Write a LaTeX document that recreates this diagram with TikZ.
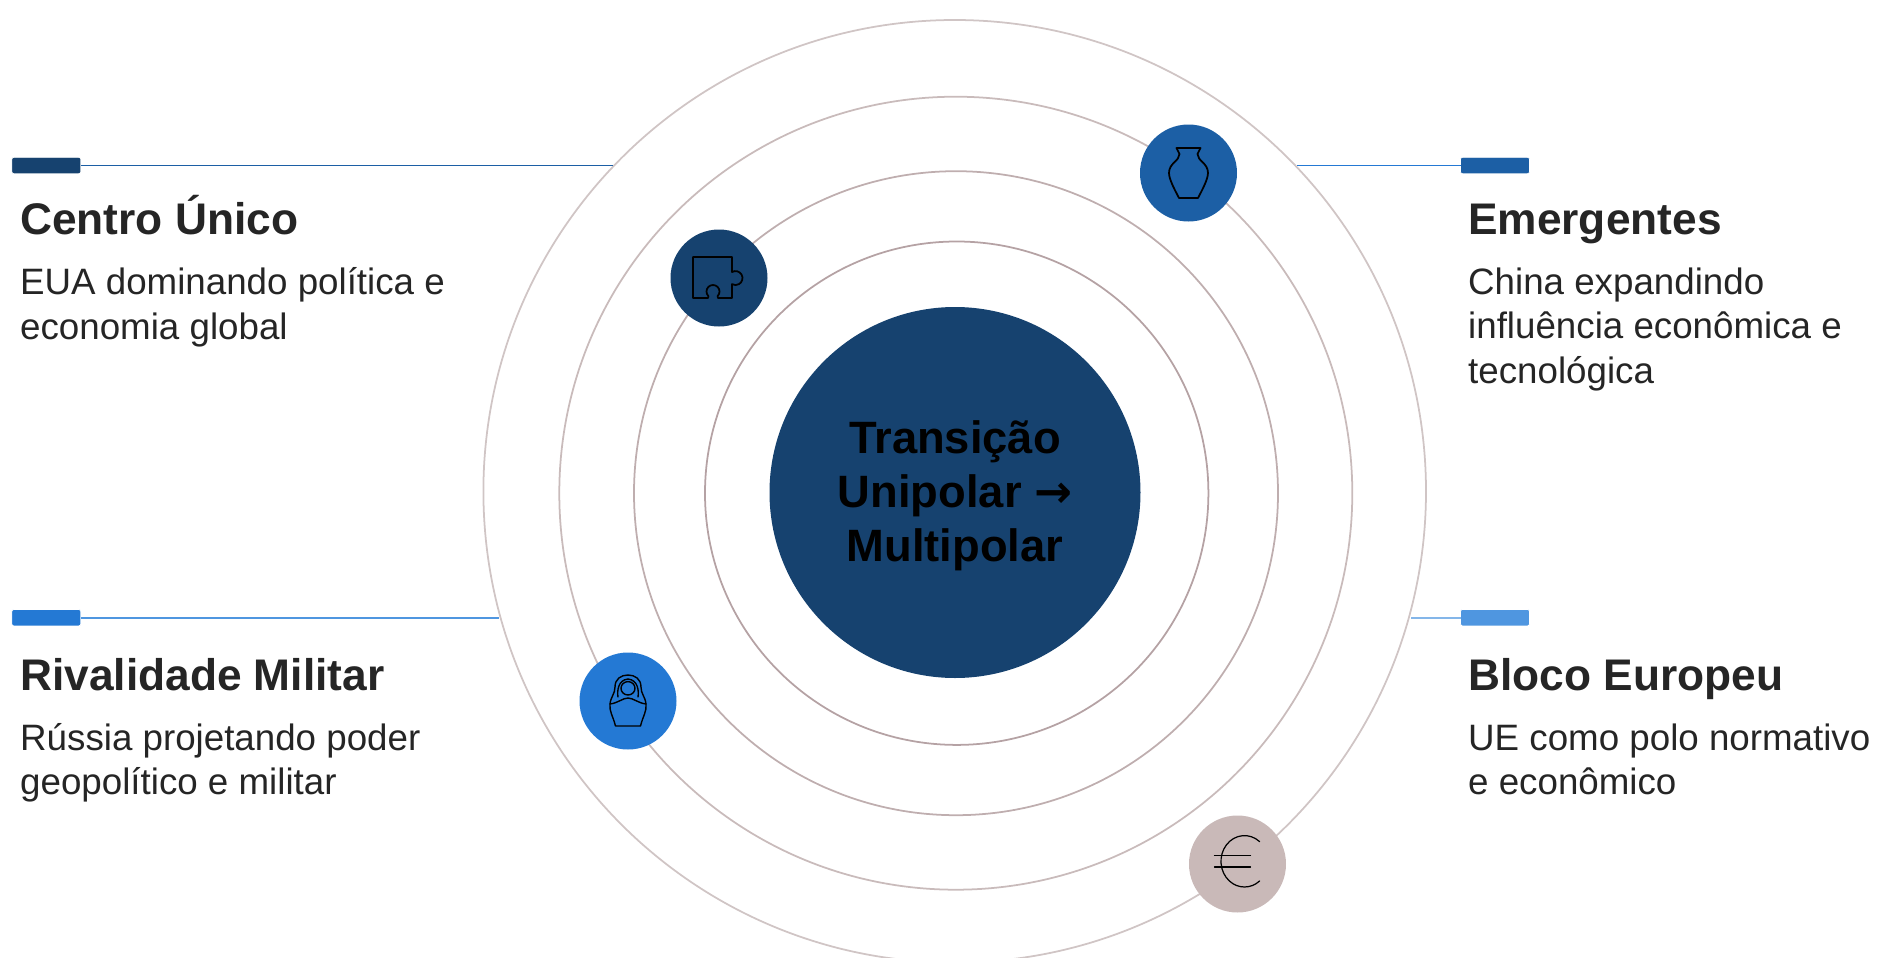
\documentclass[tikz,border=0pt]{standalone}
\usepackage{fontspec}
\usepackage{xcolor}
\setmainfont{Liberation Sans}
\newfontfamily\arrowfont{DejaVu Sans}
\definecolor{navy}{HTML}{16426F}
\definecolor{midblue}{HTML}{1C5FA5}
\definecolor{brightblue}{HTML}{2479D4}
\definecolor{lightblue}{HTML}{4F96E0}
\definecolor{taupe}{HTML}{C9B9B8}
\definecolor{ringa}{HTML}{B5A2A4}
\definecolor{ringb}{HTML}{BFAEAF}
\definecolor{ringc}{HTML}{C9BBBB}
\definecolor{ringd}{HTML}{D0C5C5}
\definecolor{ink}{HTML}{252525}
\usetikzlibrary{positioning}
\begin{document}
\begin{tikzpicture}[ring/.style = {draw, circle, inner sep=0pt, outer sep=0pt, line width=0.5pt},
           sat/.style = {circle, inner sep=0pt, outer sep=0pt, minimum size=0.97cm},
           bar/.style = {draw=white, rounded corners=0.6pt, line width=0.2pt, inner sep=0pt, outer sep=0pt, minimum width=0.69cm, minimum height=0.165cm},
           title/.style = {anchor=base west, inner sep=0pt, text=ink, font=\fontsize{12.6}{15}\selectfont\bfseries},
           desc/.style = {anchor=base west, inner sep=0pt, text=ink, align=left, font=\fontsize{10.45}{12.66}\selectfont},
           icon/.style = {line width=0.5pt, line join=round, line cap=round}]
           \clip (0,0) rectangle (18.78,9.57);

           \node[ring, draw=ringd, minimum size=9.426cm] (ring4) at (9.547,4.657) {};
           \node[ring, draw=ringc, minimum size=7.93cm] (ring3) at (9.558,4.638) {};
           \node[ring, draw=ringb, minimum size=6.44cm] (ring2) at (9.56,4.638) {};
           \node[ring, draw=ringa, minimum size=5.034cm] (ring1) at (9.567,4.638) {};

           \node[circle, fill=navy, inner sep=0pt, minimum size=3.71cm] (center) at (9.55,4.645) {};
           \node[align=center, inner sep=0pt, font=\fontsize{12.9}{15.36}\selectfont\bfseries] (centerlabel) at (9.55,4.61) {Transição\\Unipolar {\arrowfont →}\\Multipolar};

           \node[sat, fill=navy] (puzzle) at (7.19,6.79) {};
           \node[sat, fill=midblue] (vase) at (11.885,7.84) {};
           \node[sat, fill=brightblue] (doll) at (6.28,2.56) {};
           \node[sat, fill=taupe] (euro) at (12.375,0.93) {};

           \draw[icon, shift={(puzzle)}] (-.26,.21) -- (.13,.21) -- (.13,.06) arc[start angle=120, end angle=-120, radius=.07] -- (.13,-.20) -- (-.01,-.20) -- (-.014,-.181) arc[start angle=-45, end angle=225, radius=.065] -- (-.11,-.20) -- (-.26,-.20) -- cycle;
           \draw[icon, shift={(vase)}] (-.12,.25) -- (.12,.25) -- (.09,.19) .. controls (.09,.12) and (.195,.1) .. (.195,.0) .. controls (.195,-.07) and (.12,-.2) .. (.095,-.25) -- (-.095,-.25) .. controls (-.12,-.2) and (-.195,-.07) .. (-.195,.0) .. controls (-.195,.1) and (-.09,.12) .. (-.09,.19) -- cycle;
           \draw[icon, line width=0.4pt, shift={(doll)}] (-.125,-.25) -- (.125,-.25) .. controls (.15,-.15) and (.19,-.1) .. (.18,-.03) .. controls (.17,.05) and (.13,.07) .. (.13,.14) .. controls (.13,.22) and (.07,.26) .. (0,.26) .. controls (-.07,.26) and (-.13,.22) .. (-.13,.14) .. controls (-.13,.07) and (-.17,.05) .. (-.18,-.03) .. controls (-.19,-.1) and (-.15,-.15) .. (-.125,-.25);
           \draw[icon, line width=0.4pt, shift={(doll)}] (0,.127) ellipse [x radius=.07, y radius=.067];
           \draw[icon, line width=0.4pt, shift={(doll)}] (-.18,-.03) .. controls (-.1,-.02) and (-.05,.03) .. (0,.03) .. controls (.05,.03) and (.1,-.02) .. (.18,-.03);
           \draw[icon, line width=0.4pt, shift={(doll)}] (-.1,.04) .. controls (-.11,.1) and (-.1,.21) .. (0,.22) .. controls (.1,.21) and (.11,.1) .. (.1,.04);
           \draw[icon, line width=0.35pt, shift={(euro)}] (.221,.224) arc[start angle=50, end angle=310, x radius=.235, y radius=.257];
           \draw[icon, line width=0.35pt, shift={(euro)}] (-.23,.087) -- (.13,.087);
           \draw[icon, line width=0.35pt, shift={(euro)}] (-.23,-.03) -- (.13,-.03);

           \node[bar, fill=navy] (bar1) at (0.463,7.915) {};
           \node[bar, fill=midblue] (bar2) at (14.95,7.915) {};
           \node[bar, fill=brightblue] (bar3) at (0.463,3.393) {};
           \node[bar, fill=lightblue] (bar4) at (14.95,3.393) {};

           \coordinate (end1) at (6.13,7.915);
           \coordinate (end2) at (12.97,7.915);
           \coordinate (end3) at (4.99,3.393);
           \coordinate (end4) at (14.11,3.393);

           \draw[midblue, line width=0.55pt] (bar1) -- (end1);
           \draw[brightblue, line width=0.55pt] (bar2) -- (end2);
           \draw[lightblue, line width=0.55pt] (bar3) -- (end3);
           \draw[lightblue!70, line width=0.55pt] (bar4) -- (end4);

           \node[title] (title1) at (0.195,7.23) {Centro Único};
           \node[desc] (desc1) at (0.195,6.18) {EUA dominando política e\\economia global};
           \node[title] (title2) at (14.675,7.23) {Emergentes};
           \node[desc] (desc2) at (14.675,5.74) {China expandindo\\influência econômica e\\tecnológica};
           \node[title] (title3) at (0.195,2.67) {Rivalidade Militar};
           \node[desc] (desc3) at (0.195,1.625) {Rússia projetando poder\\geopolítico e militar};
           \node[title] (title4) at (14.675,2.67) {Bloco Europeu};
           \node[desc] (desc4) at (14.675,1.625) {UE como polo normativo\\e econômico};
\end{tikzpicture}
\end{document}
